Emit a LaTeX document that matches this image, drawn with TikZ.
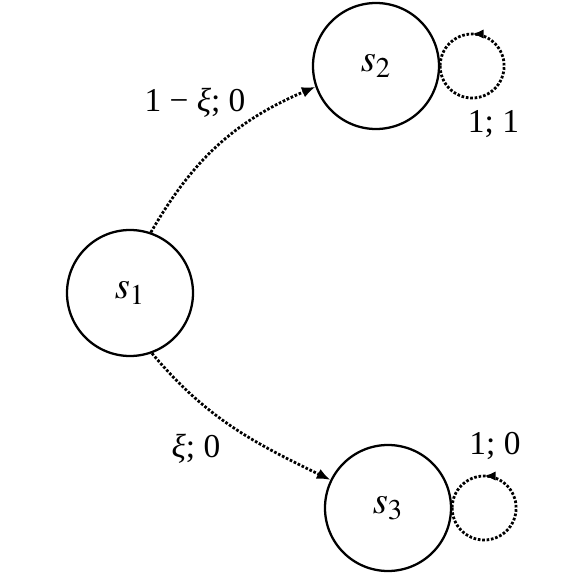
\documentclass[tikz,border=0pt]{standalone}
\usepackage{mathptmx}
\usepackage{fontspec}
\setmainfont{Liberation Serif}
\usetikzlibrary{arrows.meta,decorations.markings}

\tikzset{
    stnode/.style={draw, circle, line width=1.3pt, minimum size=2.52cm, inner sep=0pt,
        font=\fontsize{22}{26}\selectfont},
    trans/.style={-{Latex[length=2.7mm, width=2.2mm]}, line width=1.6pt,
        dash pattern=on 1.5pt off 1.0pt},
    selfloop/.style={line width=1.6pt, dash pattern=on 1.5pt off 1.0pt,
        postaction={decorate},
        decoration={markings, mark=at position 0.75 with {\arrow{Latex[length=2.3mm, width=1.9mm]}}}},
}

\begin{document}
\begin{tikzpicture}[font=\fontsize{19}{23}\selectfont]
    \useasboundingbox (0, 0) rectangle (11.62, 11.62);

    % Estados
    \node[stnode] (s1) at (2.60, 5.76) {$s_1$};
    \node[stnode] (s2) at (7.52, 10.30) {$s_2$};
    \node[stnode] (s3) at (7.76, 1.46) {$s_3$};

    % Transicoes
    \draw[trans] (s1.71) to[out=60, in=203] (s2.199);
    \draw[trans] (s1.-70) to[out=-50, in=154] (s3.154);
    \node (l12) at (3.90, 9.56) {1 − \textit{ξ}; 0};
    \node (l13) at (3.92, 2.64) {\textit{ξ}; 0};

    % Lacos
    \foreach \n in {s2, s3}
        \draw[selfloop] (\n.east) arc[start angle=180, end angle=540, radius=0.64cm];
    \node (l22) at (9.87, 9.14) {1; 1};
    \node (l33) at (9.90, 2.70) {1; 0};
\end{tikzpicture}
\end{document}
